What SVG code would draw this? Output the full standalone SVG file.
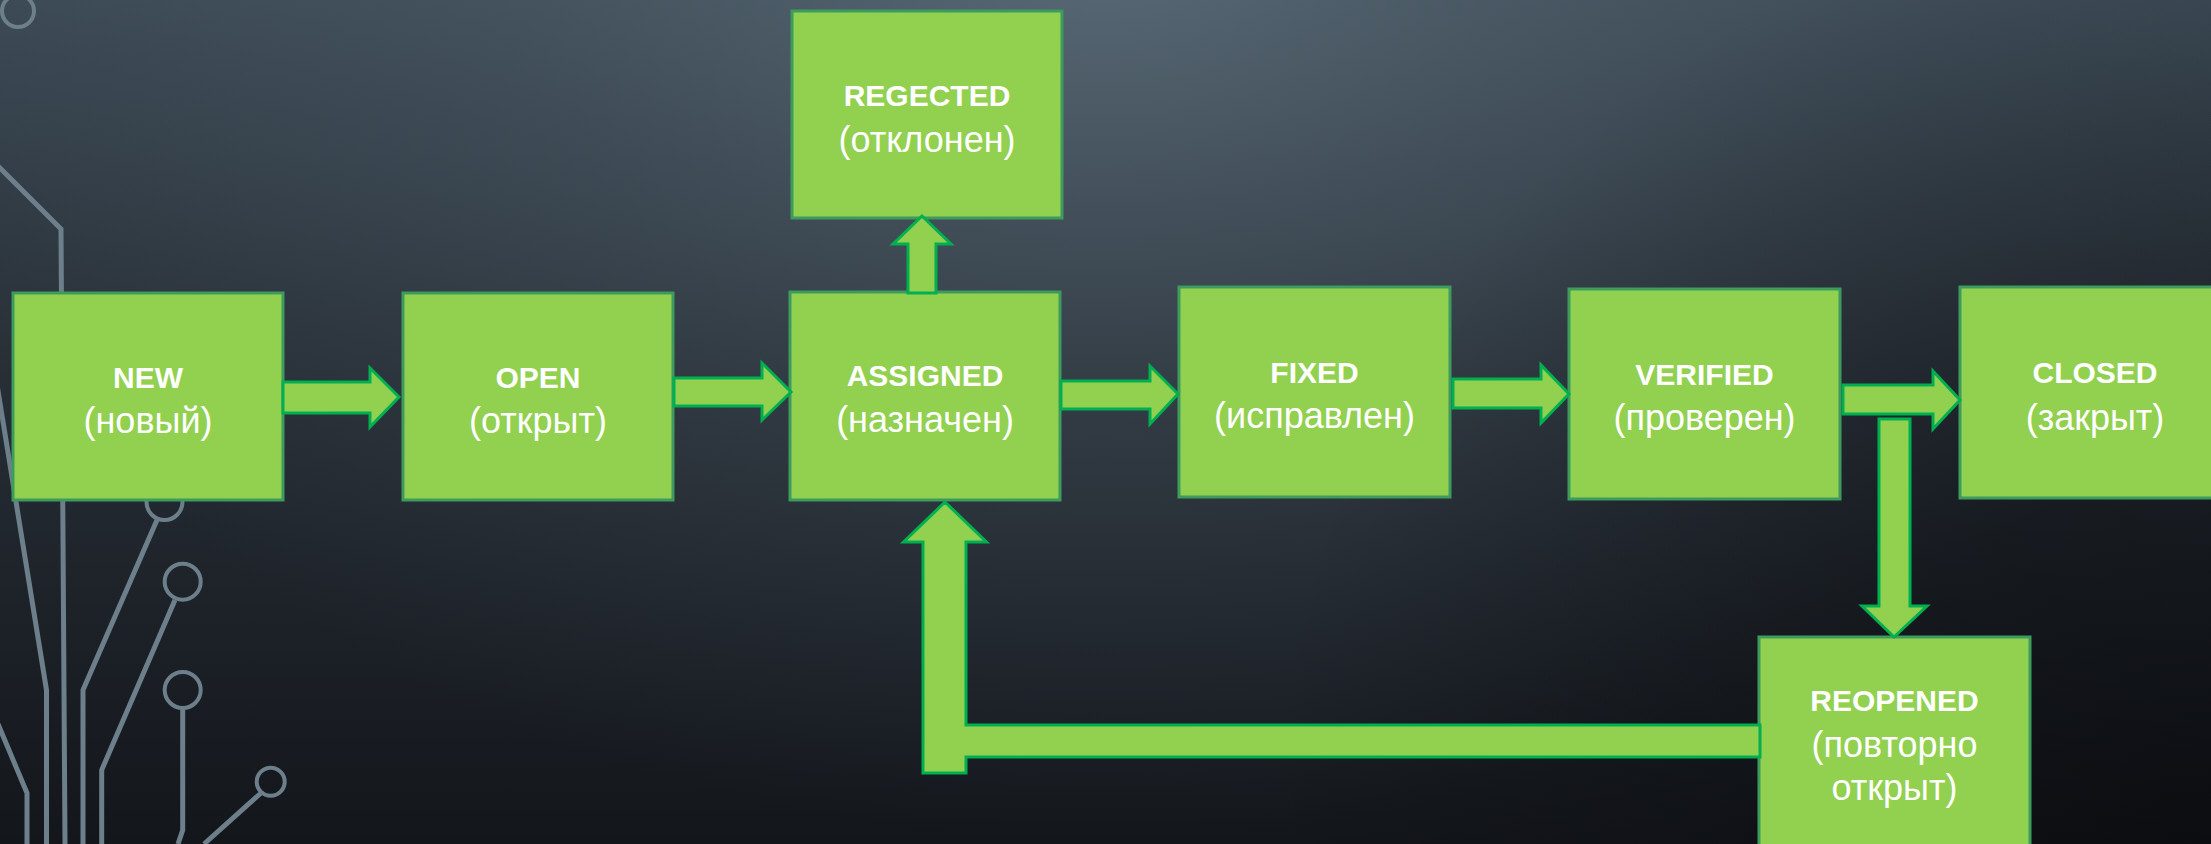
<svg xmlns="http://www.w3.org/2000/svg" width="2211" height="844" viewBox="0 0 2211 844">
  <defs>
    <linearGradient id="bgv" x1="0" y1="0" x2="0" y2="844" gradientUnits="userSpaceOnUse">
      <stop offset="0" stop-color="#3c4a55"/>
      <stop offset="0.45" stop-color="#272e36"/>
      <stop offset="1" stop-color="#13161b"/>
    </linearGradient>
    <radialGradient id="hi" cx="1100" cy="-60" r="900" gradientUnits="userSpaceOnUse" gradientTransform="translate(1100,-60) scale(1.35,1) translate(-1100,60)">
      <stop offset="0" stop-color="#6f828f" stop-opacity="0.55"/>
      <stop offset="0.5" stop-color="#5a6b77" stop-opacity="0.25"/>
      <stop offset="1" stop-color="#4a5a66" stop-opacity="0"/>
    </radialGradient>
    <radialGradient id="dk" cx="2211" cy="844" r="950" gradientUnits="userSpaceOnUse">
      <stop offset="0" stop-color="#06070a" stop-opacity="0.6"/>
      <stop offset="1" stop-color="#06070a" stop-opacity="0"/>
    </radialGradient>
    <style>
      .box { fill: #92D050; stroke: #3D9B5E; stroke-width: 3; }
      .arr { fill: #92D050; stroke: #00B050; stroke-width: 3; stroke-linejoin: miter; }
      .h { font-family: "Liberation Sans", Arial, sans-serif; font-weight: bold; font-size: 30px; fill: #ffffff; text-anchor: middle; }
      .s { font-family: "Liberation Sans", Arial, sans-serif; font-size: 36px; fill: #ffffff; text-anchor: middle; }
      .cl { fill: none; stroke: #6c7f8b; stroke-width: 5; stroke-linejoin: miter; }
      .cc { fill: none; stroke: #6c7f8b; stroke-width: 4; }
    </style>
  </defs>
  <rect x="0" y="0" width="2211" height="844" fill="url(#bgv)"/>
  <rect x="0" y="0" width="2211" height="844" fill="url(#hi)"/>
  <rect x="0" y="0" width="2211" height="844" fill="url(#dk)"/>

  <g id="circuit">
    <circle class="cc" cx="18" cy="11" r="16" stroke="#7d929f"/>
    <polyline class="cl" points="-4,164 61,229 65,844"/>
    <polyline class="cl" points="-6,366 46.5,690 46.5,844"/>
    <polyline class="cl" points="-2,724 27,793 27,844"/>
    <circle class="cc" cx="164.5" cy="502" r="18"/>
    <polyline class="cl" points="157,520 83,690 83,844"/>
    <circle class="cc" cx="182.7" cy="581.7" r="18"/>
    <polyline class="cl" points="175,600 101.7,770 101.7,844"/>
    <circle class="cc" cx="182.7" cy="690" r="18"/>
    <polyline class="cl" points="182.7,708 182.7,830 178,844"/>
    <circle class="cc" cx="270.7" cy="781.7" r="14"/>
    <polyline class="cl" points="261,793 204,844"/>
  </g>

  <g id="node-new">
    <rect class="box" x="13" y="293" width="270" height="207"/>
    <text class="h" x="148" y="388">NEW</text>
    <text class="s" x="148" y="433">(новый)</text>
  </g>
  <g id="node-open">
    <rect class="box" x="403" y="293" width="270" height="207"/>
    <text class="h" x="538" y="388">OPEN</text>
    <text class="s" x="538" y="433">(открыт)</text>
  </g>
  <g id="node-assigned">
    <rect class="box" x="790" y="292" width="270" height="208"/>
    <text class="h" x="925" y="386">ASSIGNED</text>
    <text class="s" x="925" y="432">(назначен)</text>
  </g>
  <g id="node-regected">
    <rect class="box" x="792" y="11" width="270" height="207"/>
    <text class="h" x="927" y="106">REGECTED</text>
    <text class="s" x="927" y="152">(отклонен)</text>
  </g>
  <g id="node-fixed">
    <rect class="box" x="1179" y="287" width="271" height="210"/>
    <text class="h" x="1314.5" y="383">FIXED</text>
    <text class="s" x="1314.5" y="428">(исправлен)</text>
  </g>
  <g id="node-verified">
    <rect class="box" x="1569" y="289" width="271" height="210"/>
    <text class="h" x="1704.5" y="385">VERIFIED</text>
    <text class="s" x="1704.5" y="430">(проверен)</text>
  </g>
  <g id="node-closed">
    <rect class="box" x="1960" y="287" width="270" height="211"/>
    <text class="h" x="2095" y="383">CLOSED</text>
    <text class="s" x="2095" y="430">(закрыт)</text>
  </g>
  <g id="node-reopened">
    <rect class="box" x="1759" y="637" width="271" height="220"/>
    <text class="h" x="1894.5" y="711">REOPENED</text>
    <text class="s" x="1894.5" y="757">(повторно</text>
    <text class="s" x="1894.5" y="800">открыт)</text>
  </g>

  <g id="connectors">
    <polygon class="arr" points="283,382 370,382 370,368 399,397 370,427 370,413 283,413"/>
    <polygon class="arr" points="674,378 762,378 762,363 791,392 762,420 762,406 674,406"/>
    <polygon class="arr" points="1061,381 1150,381 1150,366 1178,394 1150,424 1150,409 1061,409"/>
    <polygon class="arr" points="1453,379 1541,379 1541,365 1569,394 1541,423 1541,408 1453,408"/>
    <polygon class="arr" points="1843,385 1933,385 1933,371 1960,400 1933,429 1933,414 1843,414"/>
    <polygon class="arr" points="908,293 908,244 893,244 922,216 951,244 936,244 936,293"/>
    <polygon class="arr" points="1879,419 1910,419 1910,606 1927,606 1894,637 1862,606 1879,606"/>
    <polygon class="arr" points="945,502 986.5,542 966,542 966,725 1760,725 1760,757 966,757 966,773 923,773 923,542 903.5,542"/>
  </g>
</svg>
